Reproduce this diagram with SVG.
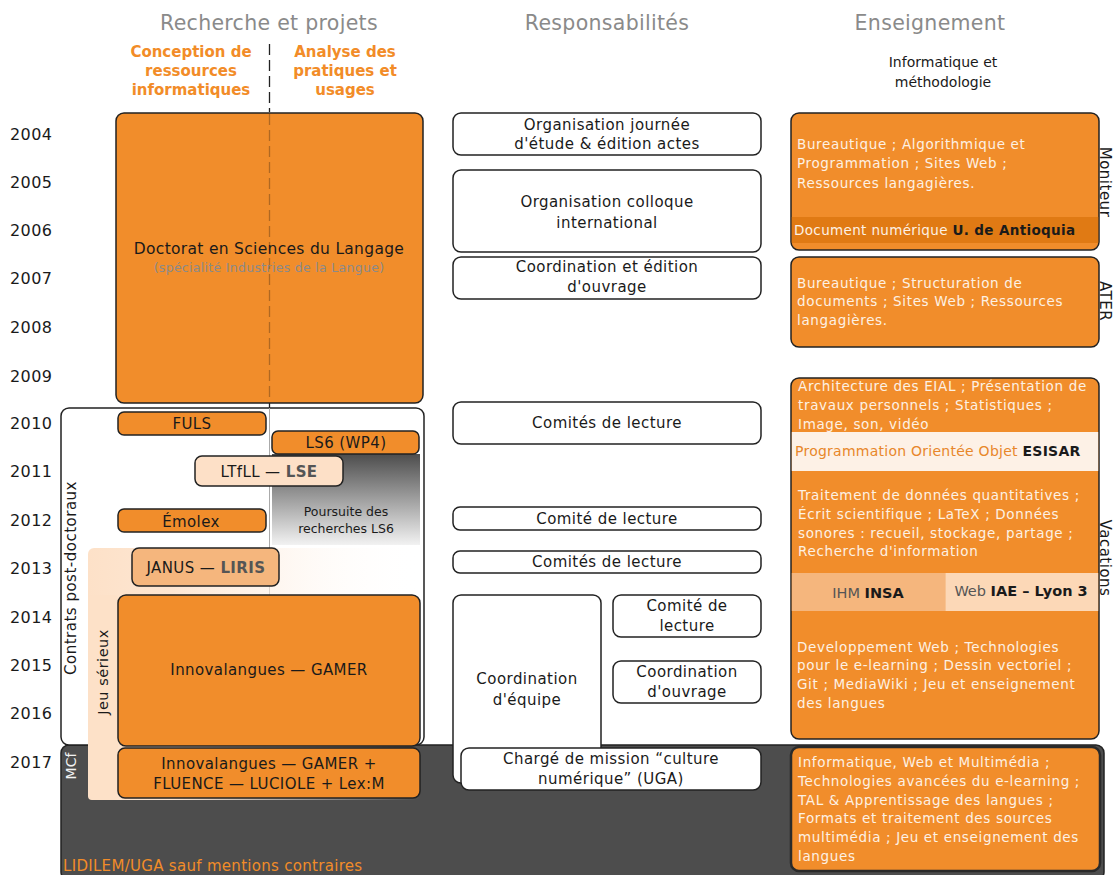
<svg xmlns="http://www.w3.org/2000/svg" width="1117" height="875" viewBox="0 0 1117 875">
<style>
text{font-family:"DejaVu Sans","Noto Sans",sans-serif;fill:#1a1a1a}
.hd{font-size:20.5px;fill:#8a8a8a;text-anchor:middle;letter-spacing:0.3px}
.sub{font-size:15px;font-weight:bold;fill:#f28c28;text-anchor:middle}
.yr{font-size:16px;fill:#1a1a1a;letter-spacing:0.4px}
.or{fill:#f18d2b;stroke:#222;stroke-width:1.5}
.wb{fill:#fff;stroke:#222;stroke-width:1.5}
.lb{font-size:15px;text-anchor:middle;letter-spacing:0.4px}
.mid{font-size:15px;text-anchor:middle;letter-spacing:0.45px}
.wt{font-size:13.5px;fill:#fdf1e4;letter-spacing:0.65px}
.side{font-size:15px;text-anchor:middle;letter-spacing:0.5px}
.bold{font-weight:bold}
</style>
<defs>
<linearGradient id="gLS6" x1="0" y1="0" x2="0" y2="1">
<stop offset="0" stop-color="#4d4d4d"/>
<stop offset="1" stop-color="#f2f2f2"/>
</linearGradient>
<linearGradient id="gJeu" x1="0" y1="0" x2="1" y2="0">
<stop offset="0" stop-color="#fde1c8"/>
<stop offset="0.25" stop-color="#fde6d2"/>
<stop offset="1" stop-color="#ffffff" stop-opacity="0"/>
</linearGradient>
</defs>

<!-- headers -->
<text class="hd" x="269" y="30">Recherche et projets</text>
<text class="hd" x="607" y="30">Responsabilités</text>
<text class="hd" x="930" y="30">Enseignement</text>
<text class="sub" x="191" y="57">Conception de</text>
<text class="sub" x="191" y="76">ressources</text>
<text class="sub" x="191" y="95">informatiques</text>
<text class="sub" x="345" y="57">Analyse des</text>
<text class="sub" x="345" y="76">pratiques et</text>
<text class="sub" x="345" y="95">usages</text>
<text x="943" y="67" style="font-size:14px;text-anchor:middle">Informatique et</text>
<text x="943" y="87" style="font-size:14px;text-anchor:middle">méthodologie</text>

<!-- years -->
<g id="years">
<text class="yr" x="10" y="140">2004</text>
<text class="yr" x="10" y="188">2005</text>
<text class="yr" x="10" y="236">2006</text>
<text class="yr" x="10" y="284">2007</text>
<text class="yr" x="10" y="333">2008</text>
<text class="yr" x="10" y="382">2009</text>
<text class="yr" x="10" y="429">2010</text>
<text class="yr" x="10" y="477">2011</text>
<text class="yr" x="10" y="526">2012</text>
<text class="yr" x="10" y="574">2013</text>
<text class="yr" x="10" y="623">2014</text>
<text class="yr" x="10" y="671">2015</text>
<text class="yr" x="10" y="719">2016</text>
<text class="yr" x="10" y="768">2017</text>
</g>

<!-- MCF dark region -->
<g id="mcf">
<rect x="61" y="745" width="1043" height="135" rx="8" fill="#4d4d4d" stroke="#222" stroke-width="1.5"/>
<text transform="translate(76,766) rotate(-90)" style="font-size:14px;fill:#f2f2f2;text-anchor:middle">MCf</text>
<text x="63" y="871" style="font-size:15px;fill:#f28c28;letter-spacing:0.3px">LIDILEM/UGA sauf mentions contraires</text>
</g>

<!-- contrats post-doctoraux -->
<g id="contrats">
<rect x="61" y="408" width="363" height="337" rx="8" class="wb"/>
<text class="side" transform="translate(76,578) rotate(-90)">Contrats post-doctoraux</text>
</g>

<!-- divider line -->
<g id="connectors">
<line x1="269.5" y1="44" x2="269.5" y2="112" stroke="#222" stroke-width="1.3" stroke-dasharray="11,5"/>
<line x1="269.5" y1="403" x2="269.5" y2="408" stroke="#222" stroke-width="1.3"/>
<line x1="269.5" y1="408" x2="269.5" y2="595" stroke="#aaa" stroke-width="1"/>
</g>

<!-- Doctorat -->
<g id="doctorat">
<rect x="116" y="113" width="307" height="290" rx="8" class="or"/>
<line x1="269.5" y1="114" x2="269.5" y2="402" stroke="#7a4a1a" stroke-opacity="0.55" stroke-width="1.3" stroke-dasharray="11,5"/>
<text class="lb" x="269" y="254" style="font-size:15.5px;letter-spacing:0.3px">Doctorat en Sciences du Langage</text>
<text x="269" y="272" style="font-size:12.5px;fill:#8a8a8a;text-anchor:middle;letter-spacing:0.3px">(spécialité Industries de la Langue)</text>
</g>

<!-- LS6 continuation -->
<g id="ls6suite">
<rect x="272" y="454" width="148" height="91" fill="url(#gLS6)"/>
<text x="346" y="516" style="font-size:12.5px;text-anchor:middle">Poursuite des</text>
<text x="346" y="533" style="font-size:12.5px;text-anchor:middle">recherches LS6</text>
</g>

<g id="fuls">
<rect x="118" y="412" width="148" height="23" rx="6" class="or"/>
<text class="lb" x="192" y="429">FULS</text>
</g>
<g id="ls6">
<rect x="272" y="431" width="147" height="23" rx="6" class="or"/>
<text class="lb" x="346" y="448">LS6 (WP4)</text>
</g>
<g id="ltfll">
<rect x="195" y="456" width="148" height="30" rx="7" fill="#fde0c7" stroke="#222" stroke-width="1.5"/>
<text class="lb" x="269" y="477">LTfLL — <tspan class="bold" style="fill:#555">LSE</tspan></text>
</g>
<g id="emolex">
<rect x="118" y="509" width="148" height="23" rx="6" class="or"/>
<text class="lb" x="191" y="527">Émolex</text>
</g>

<!-- Jeu sérieux -->
<g id="jeu">
<rect x="88" y="548" width="332" height="252" rx="6" fill="url(#gJeu)"/>
<rect x="88" y="595" width="30" height="205" rx="4" fill="#fde1c8"/>
<text class="side" transform="translate(108,672) rotate(-90)" style="font-size:14.5px">Jeu sérieux</text>
</g>
<g id="janus">
<rect x="132" y="548" width="147" height="38" rx="7" fill="#f5b67d" stroke="#222" stroke-width="1.5"/>
<text class="lb" x="206" y="573">JANUS — <tspan class="bold" style="fill:#555">LIRIS</tspan></text>
</g>
<g id="innov1">
<rect x="118" y="595" width="302" height="151" rx="8" class="or"/>
<text class="lb" x="269" y="675">Innovalangues — GAMER</text>
</g>
<g id="innov2">
<rect x="118" y="748" width="302" height="50" rx="7" class="or"/>
<text class="lb" x="269" y="769">Innovalangues — GAMER +</text>
<text class="lb" x="269" y="789">FLUENCE — LUCIOLE + Lex:M</text>
</g>

<!-- Responsabilités -->
<g id="r1">
<rect x="453" y="113" width="308" height="42" rx="8" class="wb"/>
<text class="mid" x="607" y="130">Organisation journée</text>
<text class="mid" x="607" y="149">d'étude &amp; édition actes</text>
</g>
<g id="r2">
<rect x="453" y="170" width="308" height="82" rx="8" class="wb"/>
<text class="mid" x="607" y="207">Organisation colloque</text>
<text class="mid" x="607" y="228">international</text>
</g>
<g id="r3">
<rect x="453" y="257" width="308" height="42" rx="8" class="wb"/>
<text class="mid" x="607" y="272">Coordination et édition</text>
<text class="mid" x="607" y="292">d'ouvrage</text>
</g>
<g id="r4">
<rect x="453" y="402" width="308" height="42" rx="8" class="wb"/>
<text class="mid" x="607" y="428">Comités de lecture</text>
</g>
<g id="r5">
<rect x="453" y="507" width="308" height="23" rx="7" class="wb"/>
<text class="mid" x="607" y="524">Comité de lecture</text>
</g>
<g id="r6">
<rect x="453" y="551" width="308" height="22" rx="7" class="wb"/>
<text class="mid" x="607" y="567">Comités de lecture</text>
</g>
<g id="r7">
<rect x="453" y="595" width="148" height="188" rx="8" class="wb"/>
<text class="mid" x="527" y="684">Coordination</text>
<text class="mid" x="527" y="705">d'équipe</text>
</g>
<g id="r8">
<rect x="613" y="595" width="148" height="42" rx="8" class="wb"/>
<text class="mid" x="687" y="611">Comité de</text>
<text class="mid" x="687" y="631">lecture</text>
</g>
<g id="r9">
<rect x="613" y="661" width="148" height="42" rx="8" class="wb"/>
<text class="mid" x="687" y="677">Coordination</text>
<text class="mid" x="687" y="697">d'ouvrage</text>
</g>
<g id="r10">
<rect x="461" y="748" width="300" height="42" rx="8" class="wb"/>
<text class="mid" x="611" y="764">Chargé de mission “culture</text>
<text class="mid" x="611" y="784">numérique” (UGA)</text>
</g>

<!-- Enseignement -->
<g id="moniteur">
<rect x="791" y="113" width="308" height="137" rx="8" class="or"/>
<rect x="791.8" y="217" width="306.4" height="26" fill="#e07a14"/>
<text class="wt" x="797" y="149">Bureautique ; Algorithmique et</text>
<text class="wt" x="797" y="168">Programmation ; Sites Web ;</text>
<text class="wt" x="797" y="188">Ressources langagières.</text>
<text class="wt" x="794" y="235" style="letter-spacing:0.35px">Document numérique <tspan class="bold" style="fill:#1a1a1a">U. de Antioquia</tspan></text>
<text class="side" transform="translate(1100,182) rotate(90)">Moniteur</text>
</g>
<g id="ater">
<rect x="791" y="257" width="308" height="90" rx="8" class="or"/>
<text class="wt" x="797" y="288">Bureautique ; Structuration de</text>
<text class="wt" x="797" y="306">documents ; Sites Web ; Ressources</text>
<text class="wt" x="797" y="325">langagières.</text>
<text class="side" transform="translate(1100,301) rotate(90)">ATER</text>
</g>
<g id="vacations">
<rect x="791" y="378" width="308" height="361" rx="8" class="or"/>
<rect x="791.8" y="432" width="306.4" height="39" fill="#fdf1e6"/>
<rect x="791.8" y="573" width="154" height="38" fill="#f5b67d"/>
<rect x="945.5" y="573" width="152.7" height="38" fill="#fcd8b7"/>
<text class="wt" x="798" y="391">Architecture des EIAL ; Présentation de</text>
<text class="wt" x="798" y="410">travaux personnels ;  Statistiques ;</text>
<text class="wt" x="798" y="429">Image, son, vidéo</text>
<text x="795" y="456" style="font-size:14px;fill:#e8872a;letter-spacing:0.25px">Programmation Orientée Objet <tspan class="bold" style="fill:#1a1a1a">ESISAR</tspan></text>
<text class="wt" x="798" y="500">Traitement de données quantitatives ;</text>
<text class="wt" x="798" y="519">Écrit scientifique ; LaTeX ; Données</text>
<text class="wt" x="798" y="538">sonores : recueil, stockage, partage ;</text>
<text class="wt" x="798" y="556">Recherche d'information</text>
<text x="868" y="598" style="font-size:14.5px;fill:#555;text-anchor:middle">IHM <tspan class="bold" style="fill:#1a1a1a">INSA</tspan></text>
<text x="1021" y="596" style="font-size:14.5px;fill:#555;text-anchor:middle">Web <tspan class="bold" style="fill:#1a1a1a">IAE – Lyon 3</tspan></text>
<text class="wt" x="797" y="652">Developpement Web ; Technologies</text>
<text class="wt" x="797" y="670">pour le e-learning ; Dessin vectoriel ;</text>
<text class="wt" x="797" y="689">Git ; MediaWiki ; Jeu et enseignement</text>
<text class="wt" x="797" y="708">des langues</text>
<text class="side" transform="translate(1100,558) rotate(90)">Vacations</text>
</g>
<g id="mcfteach">
<rect x="791" y="747" width="309" height="124" rx="8" fill="#f18d2b" stroke="#2a2a2a" stroke-width="2.5"/>
<text class="wt" x="798" y="767">Informatique, Web et Multimédia ;</text>
<text class="wt" x="798" y="786">Technologies avancées du e-learning ;</text>
<text class="wt" x="798" y="805">TAL &amp; Apprentissage des langues ;</text>
<text class="wt" x="798" y="823">Formats et traitement des sources</text>
<text class="wt" x="798" y="842">multimédia ; Jeu et enseignement des</text>
<text class="wt" x="798" y="861">langues</text>
</g>
</svg>
